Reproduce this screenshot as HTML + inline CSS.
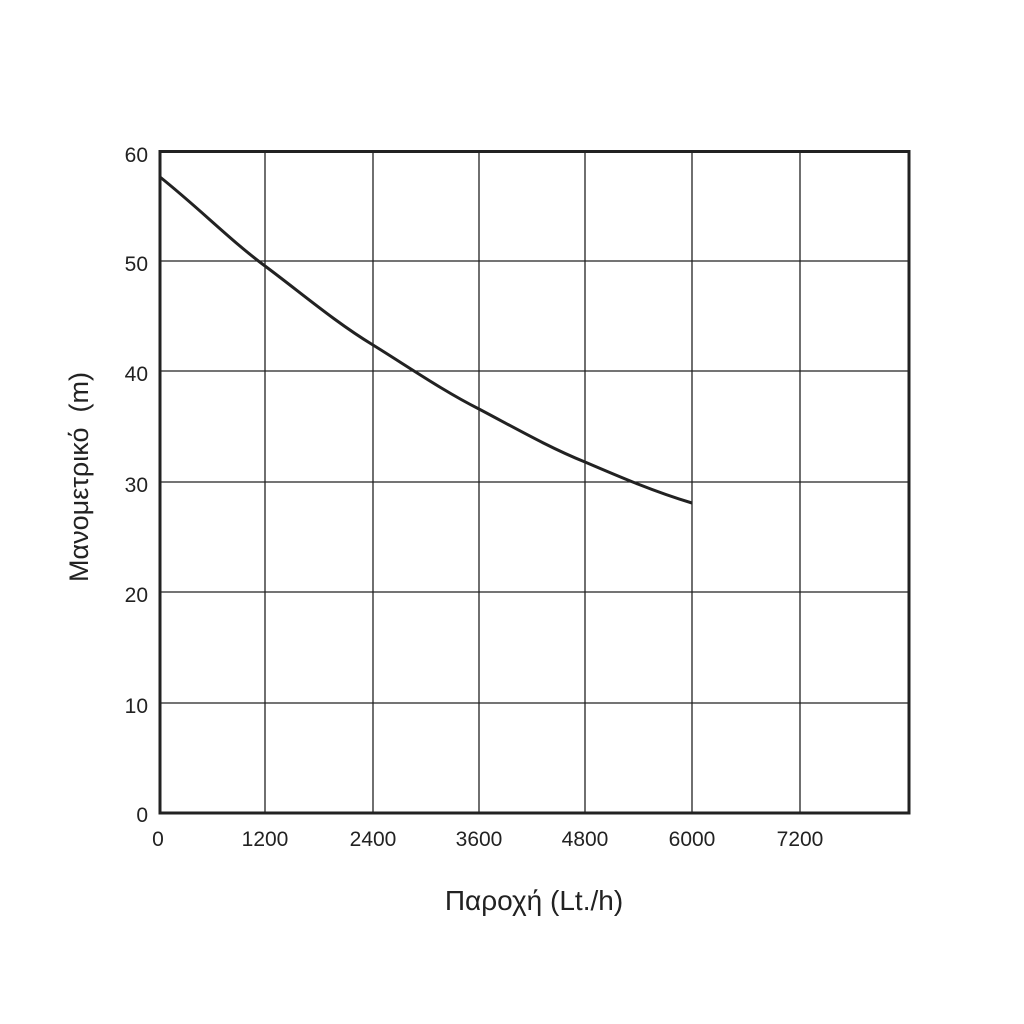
<!DOCTYPE html>
<html><head><meta charset="utf-8"><style>
body{margin:0;background:#fff;}
svg{display:block}
text{font-family:"Liberation Sans","DejaVu Sans",sans-serif;fill:#222;}
</style></head><body>
<svg width="1024" height="1024" viewBox="0 0 1024 1024">
<g stroke="#222" stroke-width="1.3">
<line x1="265" y1="151" x2="265" y2="813"/>
<line x1="373" y1="151" x2="373" y2="813"/>
<line x1="479" y1="151" x2="479" y2="813"/>
<line x1="585" y1="151" x2="585" y2="813"/>
<line x1="692" y1="151" x2="692" y2="813"/>
<line x1="800" y1="151" x2="800" y2="813"/>
<line x1="159" y1="261" x2="909" y2="261"/>
<line x1="159" y1="371" x2="909" y2="371"/>
<line x1="159" y1="482" x2="909" y2="482"/>
<line x1="159" y1="592" x2="909" y2="592"/>
<line x1="159" y1="703" x2="909" y2="703"/>
</g>
<rect x="160" y="151.5" width="749" height="661.5" fill="none" stroke="#222" stroke-width="3"/>
<path d="M160,177 C200,209 230,240 265,266 C300,292 335,322 373,345 C410,368 445,392 479,409 C515,428 550,448 585,462 C620,477 655,492 692,503" fill="none" stroke="#222" stroke-width="3"/>
<g font-size="21" text-anchor="end">
<text x="148" y="162">60</text>
<text x="148" y="271">50</text>
<text x="148" y="381">40</text>
<text x="148" y="492">30</text>
<text x="148" y="602">20</text>
<text x="148" y="713">10</text>
<text x="148" y="822">0</text>
</g>
<g font-size="21" text-anchor="middle">
<text x="158" y="846">0</text>
<text x="265" y="846">1200</text>
<text x="373" y="846">2400</text>
<text x="479" y="846">3600</text>
<text x="585" y="846">4800</text>
<text x="692" y="846">6000</text>
<text x="800" y="846">7200</text>
</g>
<text x="534" y="910" font-size="28" text-anchor="middle">Παροχή (Lt./h)</text>
<text transform="translate(88,477) rotate(-90)" font-size="27" text-anchor="middle" xml:space="preserve">Μανομετρικό  (m)</text>
</svg>
</body></html>
